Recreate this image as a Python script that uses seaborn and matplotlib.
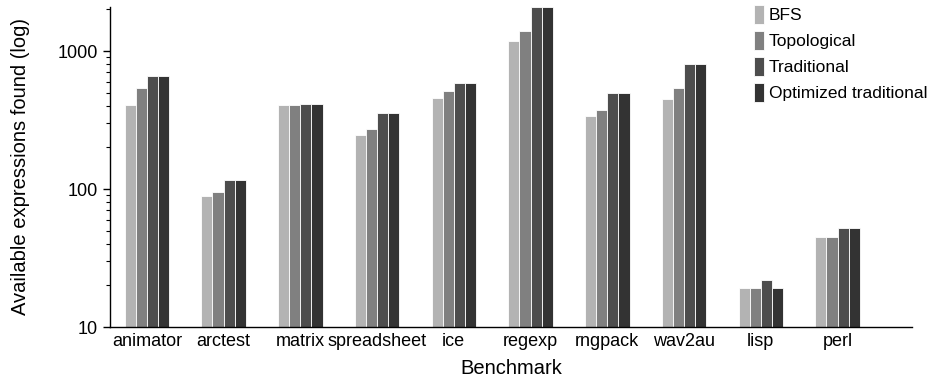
import pandas as pd
import numpy as np
import matplotlib
matplotlib.use('Agg')
import matplotlib.pyplot as plt
import seaborn as sns

sns.set_theme(style='ticks')
plt.rcParams['font.family'] = ['Liberation Sans', 'DejaVu Sans']
plt.rcParams['text.color'] = 'black'
plt.rcParams['axes.labelcolor'] = 'black'
plt.rcParams['xtick.color'] = 'black'
plt.rcParams['ytick.color'] = 'black'

# values (log scale)
benchmarks = ['animator', 'arctest', 'matrix', 'spreadsheet', 'ice',
              'regexp', 'rngpack', 'wav2au', 'lisp', 'perl']
methods = ['BFS', 'Topological', 'Traditional', 'Optimized traditional']
bfs = [406, 89, 406, 245, 459, 1181, 338, 449, 19.1, 45.1]
topological = [536, 95.6, 406, 271, 510, 1396, 373, 537, 19.1, 45.1]
traditional = [662, 116, 411, 354, 589, 2100, 494, 805, 22.0, 51.9]
optimized = [662, 116, 411, 354, 589, 2100, 494, 805, 19.1, 51.9]
colors = ['#b3b3b3', '#808080', '#4d4d4d', '#333333']

df = pd.DataFrame({'Benchmark': benchmarks * 4,
                   'method': np.repeat(methods, len(benchmarks)),
                   'value': bfs + topological + traditional + optimized})

fig = plt.figure(figsize=(9.32, 3.87), dpi=100)
ax = fig.add_axes([0.118, 0.155, 0.8605, 0.827])

sns.barplot(data=df, x='Benchmark', y='value', hue='method', palette=colors,
            width=0.58, edgecolor='white', linewidth=0.6, saturation=1,
            errorbar=None, ax=ax)
ax.set_yscale('log')

ax.set_ylim(10, 2085)
ax.set_xlim(-0.48, 9.97)
ax.set_yticks([10, 100, 1000])
ax.set_yticklabels(['10', '100', '1000'])
ax.tick_params(axis='y', which='major', length=5, width=1, labelsize=13)
ax.tick_params(axis='y', which='minor', length=3, width=0.8)
ax.tick_params(axis='x', length=0, labelsize=13, pad=4)
ax.set_xlabel('Benchmark', fontsize=14.5, labelpad=7)
ax.set_ylabel('Available expressions found (log)', fontsize=14.5, labelpad=20)
sns.despine(ax=ax)
for s in ['left', 'bottom']:
    ax.spines[s].set_color('black')
    ax.spines[s].set_linewidth(1)

ax.legend(loc='upper left', bbox_to_anchor=(0.8015, 1.005), bbox_transform=fig.transFigure,
          frameon=False, fontsize=12.5, handlelength=0.6, handleheight=1.3,
          handletextpad=0.25, labelspacing=0.4, borderaxespad=0)

fig.savefig('out.png', dpi=100)
